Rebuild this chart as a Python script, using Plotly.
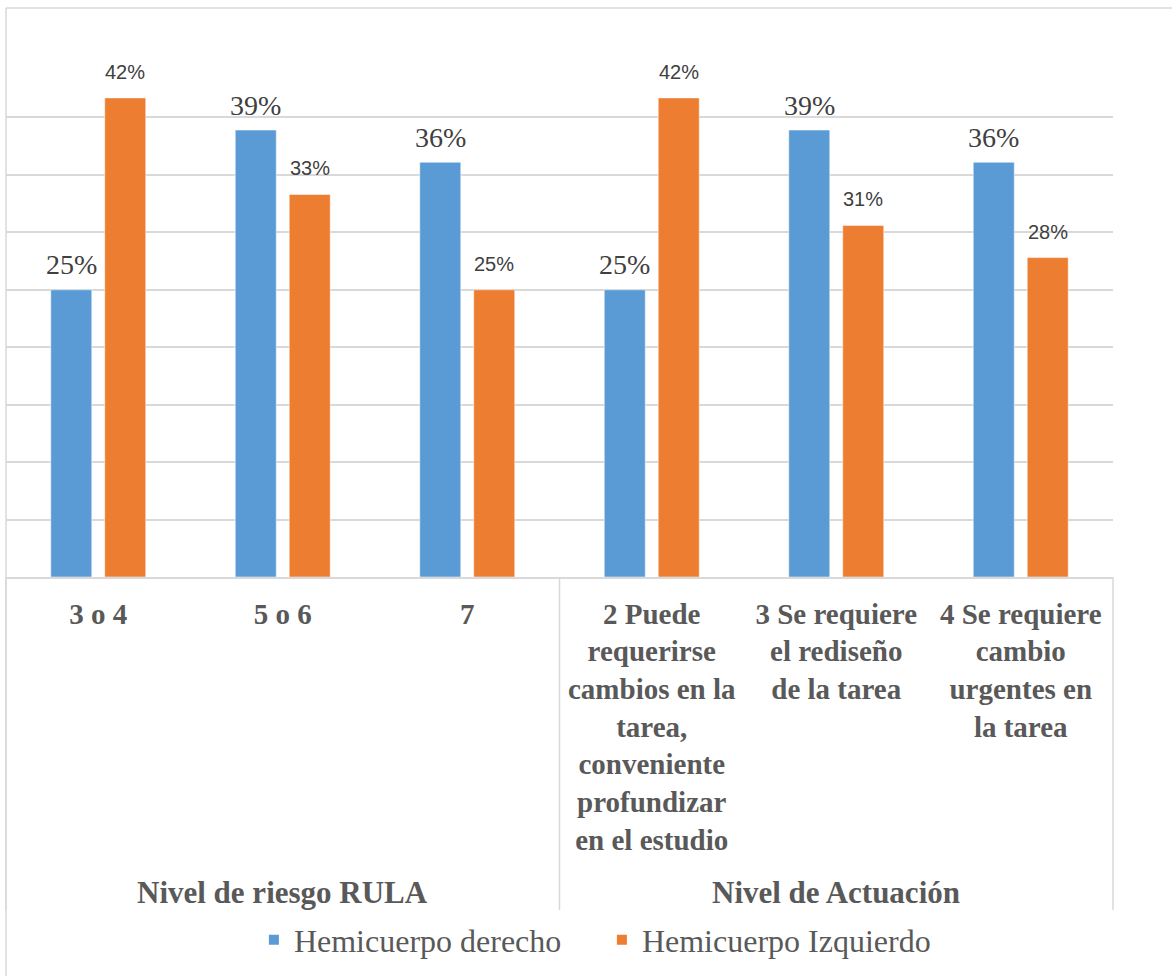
import plotly.graph_objects as go

categories = ["3 o 4", "5 o 6", "7",
              "2 Puede requerirse cambios en la tarea, conveniente profundizar en el estudio",
              "3 Se requiere el rediseño de la tarea",
              "4 Se requiere cambio urgentes en la tarea"]
tick_text = ["3 o 4", "5 o 6", "7",
             "2 Puede<br>requerirse<br>cambios en la<br>tarea,<br>conveniente<br>profundizar<br>en el estudio",
             "3 Se requiere<br>el rediseño<br>de la tarea",
             "4 Se requiere<br>cambio<br>urgentes en<br>la tarea"]
groups = ["Nivel de riesgo RULA", "Nivel de Actuación"]
derecho = [25.0, 38.9, 36.1, 25.0, 38.9, 36.1]
izquierdo = [41.7, 33.3, 25.0, 41.7, 30.6, 27.8]

BLUE = "#5B9BD5"
ORANGE = "#ED7D31"
GRID = "#D9D9D9"
TXT = "#595959"
LBL = "#404040"

fig = go.Figure()
fig.add_trace(go.Bar(
    x=categories, y=derecho, name="Hemicuerpo derecho",
    marker=dict(color=BLUE, line=dict(color="#FFFFFF", width=0.5)),
))
fig.add_trace(go.Bar(
    x=categories, y=izquierdo, name="Hemicuerpo Izquierdo",
    marker=dict(color=ORANGE, line=dict(color="#FFFFFF", width=0.5)),
))

# data labels (x given as category index)
for i, v in enumerate(derecho):
    fig.add_annotation(x=i, y=v, xref="x", yref="y", text="%.0f%%" % v, showarrow=False,
                       xshift=-27, yshift=25, yanchor="middle",
                       font=dict(family="Liberation Serif", size=28, color=LBL))
for i, v in enumerate(izquierdo):
    fig.add_annotation(x=i, y=v, xref="x", yref="y", text="%.0f%%" % v, showarrow=False,
                       xshift=27, yshift=26, yanchor="middle",
                       font=dict(family="Liberation Sans", size=20, color=LBL))

fig.update_layout(
    width=1172, height=976,
    margin=dict(l=6, r=59, t=60, b=399),
    paper_bgcolor="white", plot_bgcolor="white",
    barmode="group", bargap=0.415, bargroupgap=0.24,
    showlegend=True,
    legend=dict(orientation="h", x=0.5383, xanchor="center", y=(577 - 940) / 517, yanchor="middle",
                font=dict(family="Liberation Serif", size=32, color=TXT),
                tracegroupgap=0, itemsizing="constant", entrywidth=303, itemwidth=30),
)
fig.update_yaxes(range=[0, 45], dtick=5, showticklabels=False, gridcolor=GRID,
                 gridwidth=1.5, zeroline=False, showline=False)
fig.update_xaxes(type="category", range=[-0.5, len(categories) - 0.5],
                 tickmode="array", tickvals=categories, ticktext=tick_text,
                 tickangle=0, showline=True, linecolor=GRID, linewidth=1.5,
                 ticks="", showgrid=False, ticklabelstandoff=10,
                 tickfont=dict(family="Liberation Serif", size=29, color=TXT, weight="bold"))

# separators and chart border
ybot = (577 - 910) / 517
for xp in [0, 0.5, 1]:
    fig.add_shape(type="line", xref="paper", yref="paper", x0=xp, x1=xp, y0=0, y1=ybot,
                  line=dict(color=GRID, width=1.5))
fig.add_shape(type="line", xref="paper", yref="paper", x0=0, x1=0, y0=1.1006, y1=-0.78,
              line=dict(color=GRID, width=1.5))
fig.add_shape(type="line", xref="paper", yref="paper", x0=0, x1=1.06, y0=1.1006, y1=1.1006,
              line=dict(color=GRID, width=1.5))

# group labels
for gx, gt in zip([0.25, 0.75], groups):
    fig.add_annotation(x=gx, y=(577 - 892) / 517, xref="paper", yref="paper", text="<b>%s</b>" % gt,
                       showarrow=False, font=dict(family="Liberation Serif", size=31, color=TXT),
                       xanchor="center", yanchor="middle")

fig.write_html("out.html", config={"displayModeBar": False},
               post_script="document.body.style.margin='0';")
